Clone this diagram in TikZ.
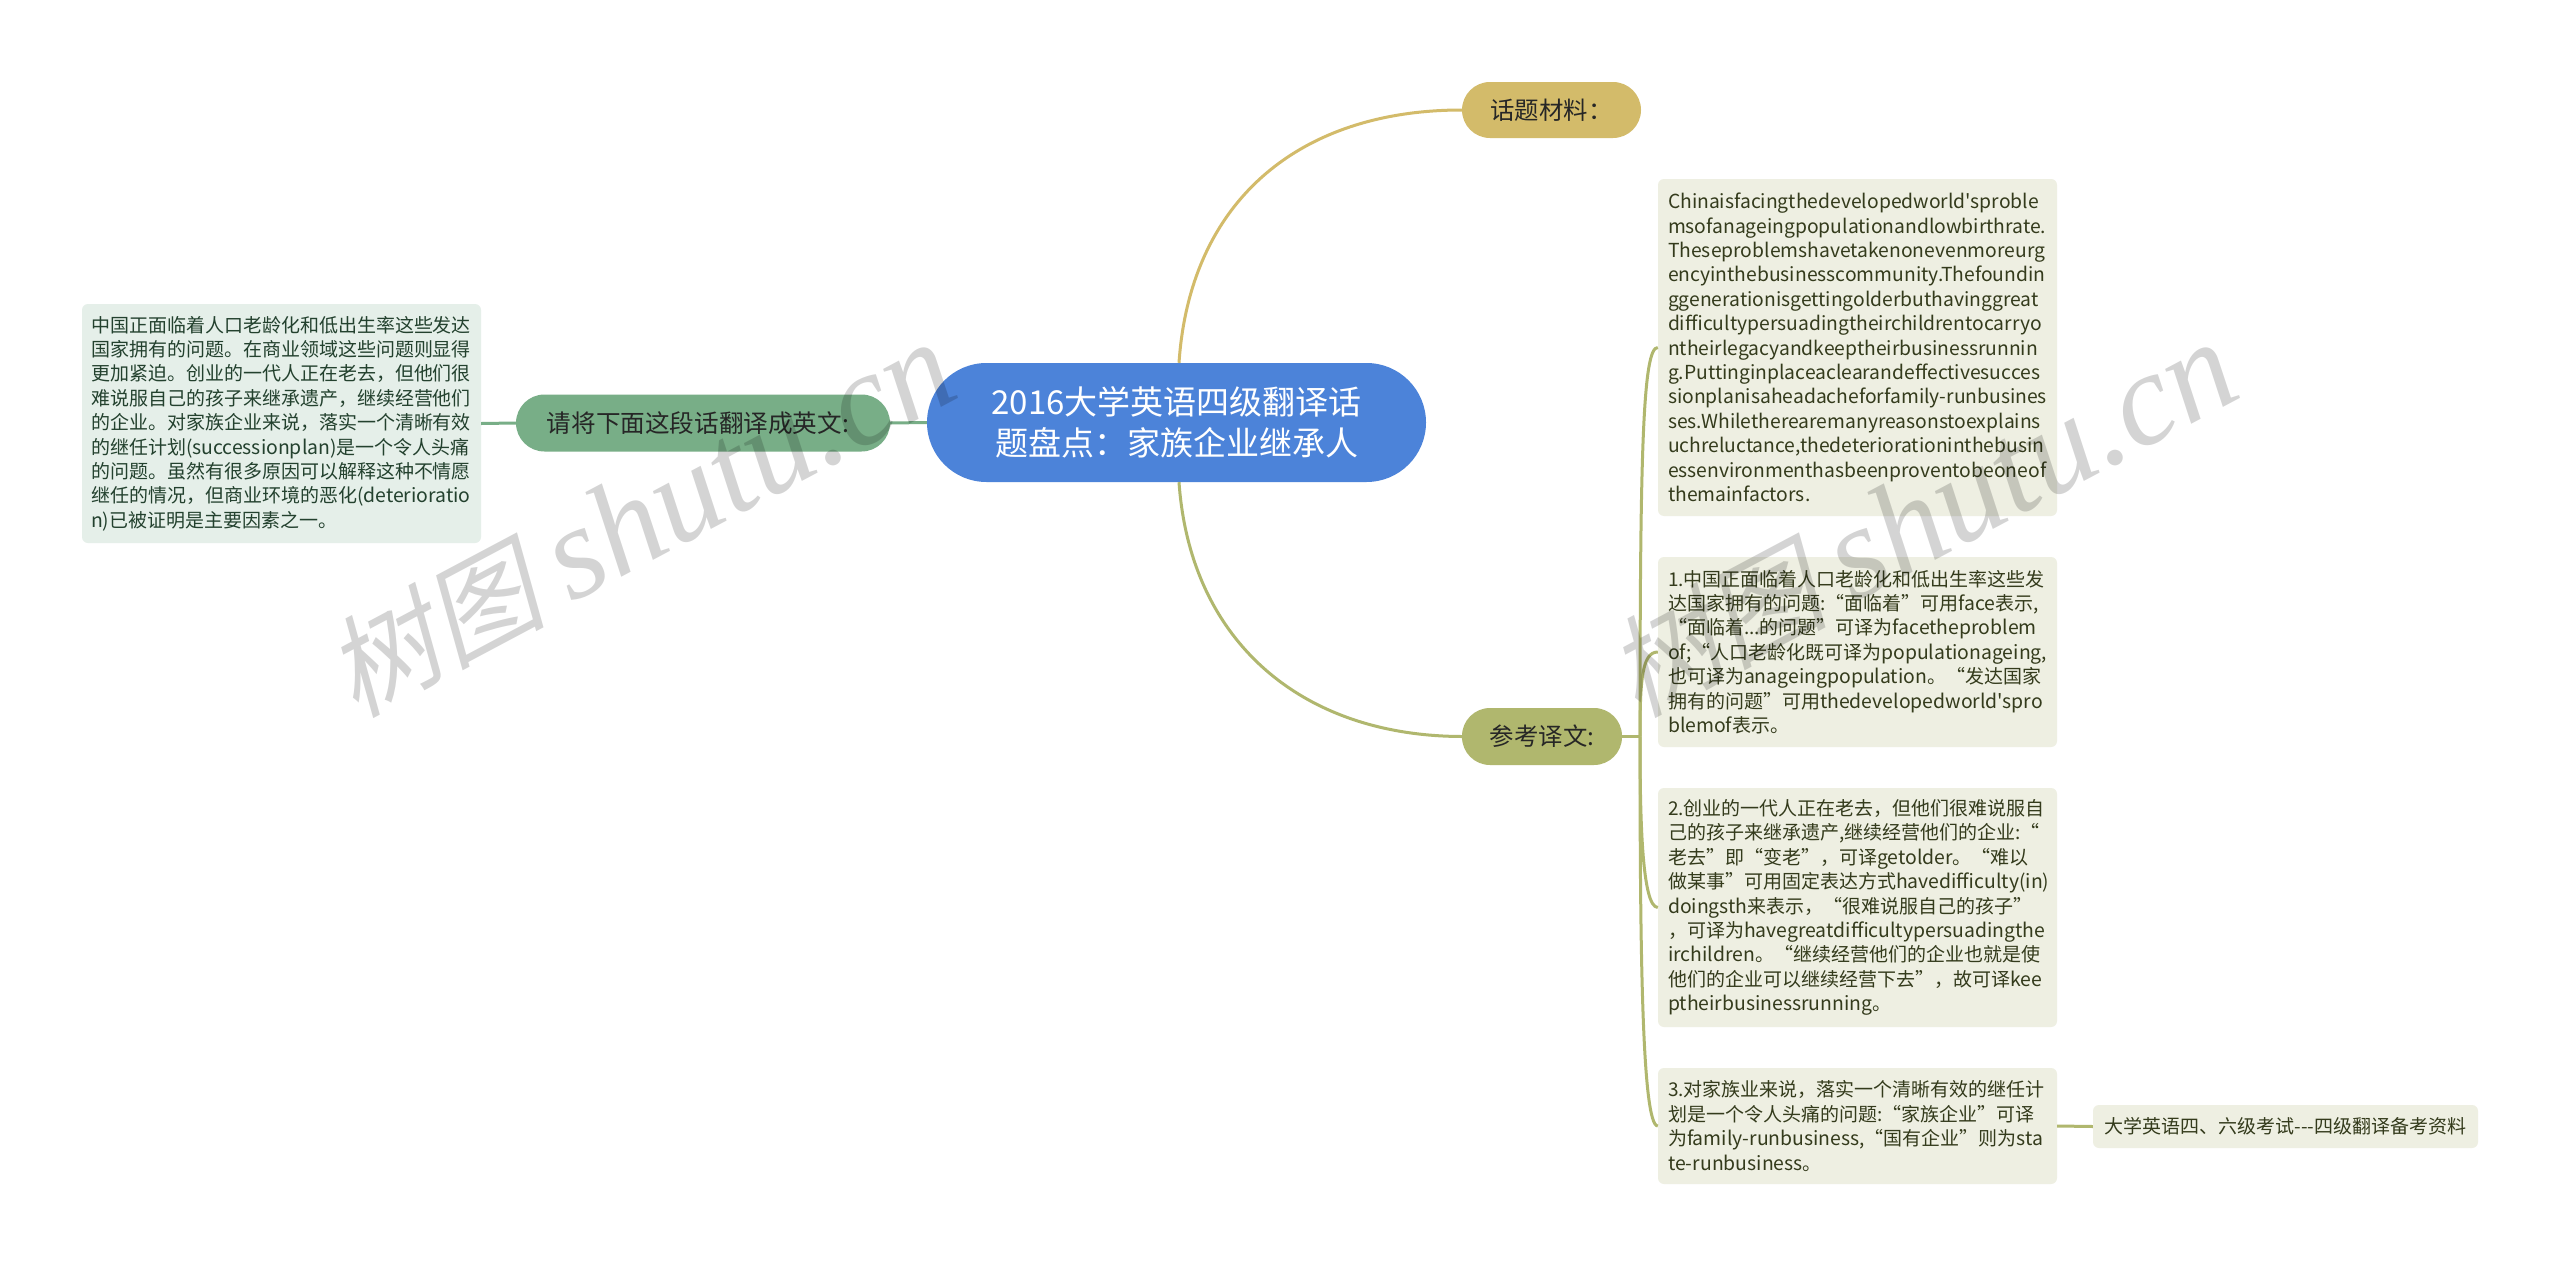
\documentclass[tikz,border=0pt]{standalone}
\usepackage{fontspec}
\setmainfont{Noto Sans CJK SC}
\newfontfamily\plaincjk{Noto Sans CJK SC}
\newfontfamily\wmcjk[FakeSlant=0.22]{Noto Sans CJK SC}
\newfontfamily\wmlat{Liberation Serif}
\newcommand{\lat}[1]{{\fontsize{19.4}{24.4}\selectfont #1}}
\definecolor{rootblue}{HTML}{4C83D9}
\definecolor{askgreen}{HTML}{78AE87}
\definecolor{topicgold}{HTML}{D3BB6A}
\definecolor{refolive}{HTML}{B0B76E}
\definecolor{boxolive}{HTML}{EEEFE2}
\definecolor{boxgreen}{HTML}{E5EFE9}
\definecolor{txtolive}{HTML}{343B1C}
\definecolor{txtgreen}{HTML}{23412E}
\tikzset{
  pill/.style={draw=none,rectangle,rounded corners=#1,align=center,inner sep=0pt,text=black!85},
  leafbox/.style={rectangle,rounded corners=6pt,inner sep=0pt,align=left,text=txtolive,fill=boxolive,font=\plaincjk\fontsize{19}{24.4}\selectfont},
  wmark/.style={text=black,text opacity=0.17,inner sep=0pt,rotate=28,anchor=center},
  lnk/.style={line width=3pt}
}
\begin{document}
\begin{tikzpicture}[x=1pt,y=-1pt]
\useasboundingbox[fill=white] (0,0) rectangle (2560,1266);
% nodes
\node[pill=59.5pt,fill=rootblue,text=white,minimum width=499pt,minimum height=119pt,font=\fontsize{33}{41}\selectfont] (root) at (1176.5,422.5) {2016大学英语四级翻译话\\题盘点：家族企业继承人};
\node[pill=28.5pt,fill=askgreen,minimum width=374pt,minimum height=57pt,font=\fontsize{24.6}{30}\selectfont] (ask) at (703,423) {请将下面这段话翻译成英文:\kern10pt};
\node[pill=28pt,fill=topicgold,minimum width=179pt,minimum height=56pt,font=\fontsize{24.4}{30}\selectfont] (topic) at (1551.5,110) {话题材料：};
\node[pill=28pt,fill=refolive,minimum width=160pt,minimum height=57pt,font=\fontsize{24.4}{30}\selectfont] (ref) at (1542,736.5) {参考译文:};
\node[leafbox,fill=boxgreen,text=txtgreen,minimum width=399pt,minimum height=239pt,text width=381pt] (source) at (281.5,423.5) {中国正面临着人口老龄化和低出生率这些发达\\国家拥有的问题。在商业领域这些问题则显得\\更加紧迫。创业的一代人正在老去，但他们很\\难说服自己的孩子来继承遗产，继续经营他们\\的企业。对家族企业来说，落实一个清晰有效\\的继任计划(\lat{successionplan})是一个令人头痛\\的问题。虽然有很多原因可以解释这种不情愿\\继任的情况，但商业环境的恶化(\lat{deterioratio}\\\lat{n})已被证明是主要因素之一。};
\node[leafbox,font=\plaincjk\fontsize{19.3}{24.4}\selectfont,minimum width=399pt,minimum height=337pt,text width=379pt] (eng) at (1857.5,347.5) {Chinaisfacingthedevelopedworld'sproble\\msofanageingpopulationandlowbirthrate.\\Theseproblemshavetakenonevenmoreurg\\encyinthebusinesscommunity.Thefoundin\\ggenerationisgettingolderbuthavinggreat\\difficultypersuadingtheirchildrentocarryo\\ntheirlegacyandkeeptheirbusinessrunnin\\g.Puttinginplaceaclearandeffectivesucces\\\mbox{sionplanisaheadacheforfamily-runbusines}\\ses.Whilethere{}are{}manyreasonstoexplains\\uchreluctance,thedeteriorationinthebusin\\essenvironmenthasbeenproventobeoneof\\themainfactors.};
\node[leafbox,minimum width=399pt,minimum height=190pt,text width=379pt] (noteone) at (1857.5,652) {1.中国正面临着人口老龄化和低出生率这些发\\达国家拥有的问题:“面临着”可用\lat{face}表示,\\“面临着...的问题”可译为\lat{facetheproblem}\\\lat{of};“人口老龄化既可译为\lat{populationageing},\\也可译为\lat{anageingpopulation}。“发达国家\\拥有的问题”可用\lat{thedevelopedworld'spro}\\\lat{blemof}表示。};
\node[leafbox,minimum width=399pt,minimum height=239pt,text width=379pt] (notetwo) at (1857.5,907.5) {2.创业的一代人正在老去，但他们很难说服自\\己的孩子来继承遗产,继续经营他们的企业:“\\老去”即“变老”，可译\lat{getolder}。“难以\\做某事”可用固定表达方式\lat{havedifficulty}(\lat{in})\\\lat{doingsth}来表示，“很难说服自己的孩子”\\，可译为\lat{havegreatdifficultypersuadingthe}\\\lat{irchildren}。“继续经营他们的企业也就是使\\他们的企业可以继续经营下去”，故可译\lat{kee}\\\lat{ptheirbusinessrunning}。};
\node[leafbox,minimum width=399pt,minimum height=116pt,text width=379pt] (notethree) at (1857.5,1126) {3.对家族业来说，落实一个清晰有效的继任计\\划是一个令人头痛的问题:“家族企业”可译\\为\lat{family-runbusiness},“国有企业”则为\lat{sta}\\\lat{te-runbusiness}。};
\node[leafbox,minimum width=385pt,minimum height=43pt,align=center] (exam) at (2285.5,1126.5) {大学英语四、六级考试-{}-{}-四级翻译备考资料};
\coordinate (hub) at (1640,736.5);
% connectors
\draw[lnk,askgreen] (root.west) -- (ask.east);
\draw[lnk,askgreen] (ask.west) -- (source.east);
\draw[lnk,topicgold] ([xshift=2.5pt]root.north) .. controls (1190,200) and (1300,110) .. (topic.west);
\draw[lnk,refolive] ([xshift=2.5pt]root.south) .. controls (1190,640) and (1300,736) .. (ref.west);
\draw[lnk,refolive] (ref.east) -- (hub);
\draw[lnk,refolive] (hub) .. controls (1640,450) and (1643,347) .. (eng.west);
\draw[lnk,refolive] (hub) .. controls (1640,680) and (1642,652) .. (noteone.west);
\draw[lnk,refolive] (hub) .. controls (1640,820) and (1642,907) .. (notetwo.west);
\draw[lnk,refolive] (hub) .. controls (1640,950) and (1642,1126) .. (notethree.west);
\draw[lnk,refolive] (notethree.east) -- (exam.west);
% watermark
\node[wmark] (wmleft) at (640,520) {\fontsize{110}{125}\selectfont\wmcjk 树图 \fontsize{132}{125}\selectfont\wmlat\itshape shutu.cn};
\node[wmark] (wmright) at (1922,520) {\fontsize{110}{125}\selectfont\wmcjk 树图 \fontsize{132}{125}\selectfont\wmlat\itshape shutu.cn};
\end{tikzpicture}
\end{document}
